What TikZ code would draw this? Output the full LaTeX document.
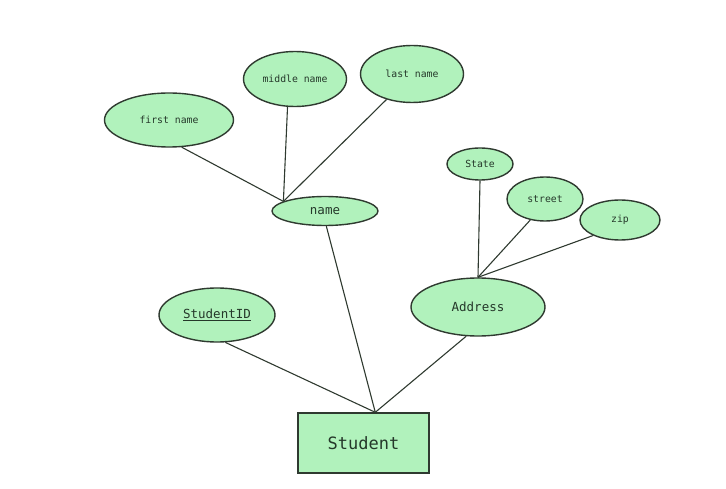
\documentclass[tikz,border=0pt]{standalone}
\usepackage{fontspec}
\setmonofont{DejaVu Sans Mono}
\usepackage{xcolor}
\usepackage{tikz}
\usetikzlibrary{shapes.geometric}
\definecolor{attrfill}{HTML}{B1F2BC}
\definecolor{attrline}{HTML}{2F3A30}
\definecolor{attrtext}{HTML}{25382A}

\begin{document}
\begin{tikzpicture}[x=1pt,y=-1pt]
\tikzstyle{every node}+=[inner sep=0pt,text=attrtext,font=\ttfamily]
\tikzstyle{attr}=[ellipse,draw=attrline,fill=attrfill,line width=1.4pt]
\tikzstyle{entity}=[rectangle,draw=attrline,fill=attrfill,line width=1.4pt]
\tikzstyle{link}=[draw=attrline,line width=1.1pt]
\useasboundingbox (0,0) rectangle (726,489);
\node [attr,minimum width=129,minimum height=54,font=\ttfamily\fontsize{9.8}{11}\selectfont] (first) at (169,120) {first name};
\node [attr,minimum width=103,minimum height=55,font=\ttfamily\fontsize{9.8}{11}\selectfont] (middle) at (295,79) {middle name};
\node [attr,minimum width=103,minimum height=57,font=\ttfamily\fontsize{9.8}{11}\selectfont] (last) at (412,74) {last name};
\node [attr,minimum width=106,minimum height=29,font=\ttfamily\fontsize{12.5}{14}\selectfont] (name) at (325,211) {name};
\node [attr,minimum width=66,minimum height=32,font=\ttfamily\fontsize{9.8}{11}\selectfont] (state) at (480,164) {State};
\node [attr,minimum width=76,minimum height=44,font=\ttfamily\fontsize{9.8}{11}\selectfont] (street) at (545,199) {street};
\node [attr,minimum width=80,minimum height=40,font=\ttfamily\fontsize{9.8}{11}\selectfont] (zip) at (620,220) {zip};
\node [attr,minimum width=134,minimum height=58,font=\ttfamily\fontsize{12.5}{14}\selectfont] (address) at (478,307) {Address};
\node [attr,minimum width=116,minimum height=54,font=\ttfamily\fontsize{12.5}{14}\selectfont] (sid) at (217,315) {\underline{StudentID}};
\node [entity,minimum width=131,minimum height=60,font=\ttfamily\fontsize{17}{19}\selectfont] (student) at (363.5,443) {Student};
\draw [link] (first.-65) -- (name.167);
\draw [link] (middle.-105) -- (name.167);
\draw [link] (last.-135) -- (name.167);
\draw [link] (state.south) -- (address.north);
\draw [link] (street.-125) -- (address.north);
\draw [link] (zip.-150) -- (address.north);
\draw [link] (name.-85) -- (student.69);
\draw [link] (address.-112) -- (student.69);
\draw [link] (sid.-73) -- (student.69);
\end{tikzpicture}
\end{document}
